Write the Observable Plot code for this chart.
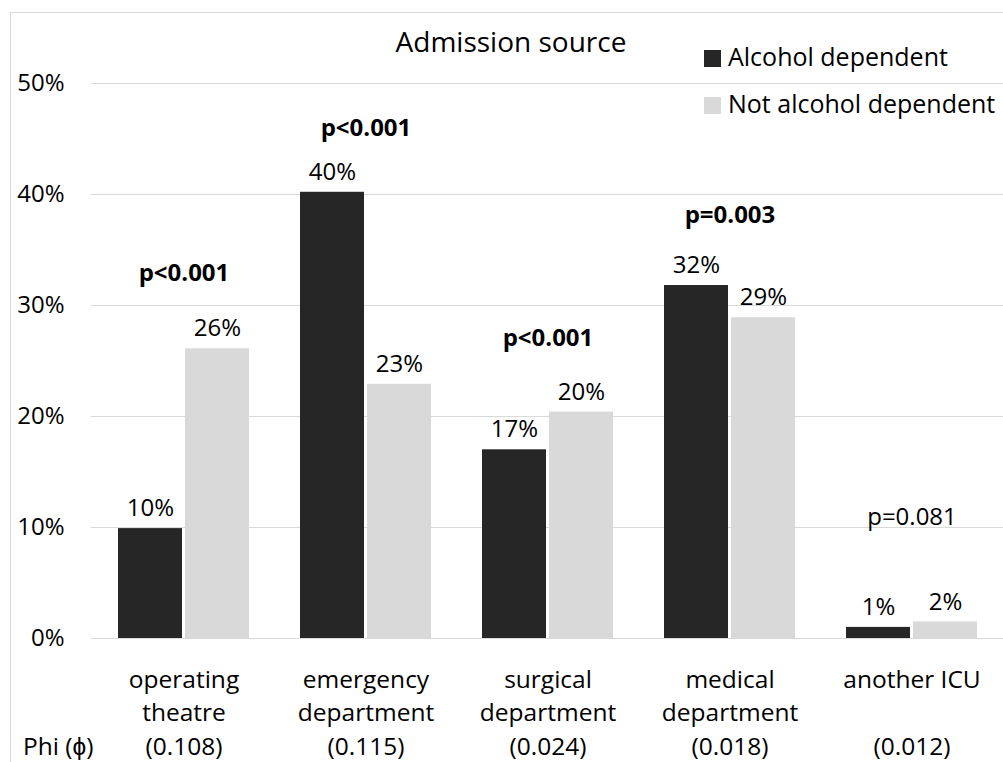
<!DOCTYPE html>
<html>
<head>
<meta charset="utf-8">
<script src="https://cdn.jsdelivr.net/npm/d3@7"></script>
<script src="https://cdn.jsdelivr.net/npm/@observablehq/plot@0.6"></script>
<style>
  html, body { margin: 0; padding: 0; background: #fff; }
  #wrap { position: relative; width: 1003px; height: 762px; overflow: hidden; font-family: "Open Sans", sans-serif; color: #000; }
  #frame { position: absolute; left: 10px; top: 12px; width: 1200px; height: 900px; border-left: 1px solid #d9d9d9; border-top: 1px solid #d9d9d9; box-sizing: border-box; }
  #chart { position: absolute; left: 0; top: 0; }
  #title { position: absolute; left: 0; top: 27px; width: 1022px; text-align: center; font-size: 28px; line-height: 28px; }
  .leg { position: absolute; left: 704px; font-size: 25px; line-height: 25px; white-space: nowrap; }
  .leg .sw { position: absolute; left: 0; width: 17px; height: 17px; }
  .leg .tx { position: absolute; left: 24px; top: 0; }
</style>
</head>
<body>
<div id="wrap">
  <div id="frame"></div>
  <div id="chart"></div>
  <div id="title"></div>
  <div id="legend"></div>
</div>
<script>
// ---- data ----
const title = "Admission source";
const categories = ["operating theatre", "emergency department", "surgical department", "medical department", "another ICU"];
const categoryLabels = ["operating\ntheatre", "emergency\ndepartment", "surgical\ndepartment", "medical\ndepartment", "another ICU"];
const groups = ["Alcohol dependent", "Not alcohol dependent"];
const colors = ["#262626", "#d9d9d9"];
const alcoholDependent = [9.9, 40.2, 17.0, 31.8, 1.0];
const notAlcoholDependent = [26.1, 22.9, 20.4, 28.9, 1.5];
const phiLabel = "Phi (\u03D5)";
const phiValues = ["(0.108)", "(0.115)", "(0.024)", "(0.018)", "(0.012)"];
const pValues = ["p<0.001", "p<0.001", "p<0.001", "p=0.003", "p=0.081"];
const pSignificant = [true, true, true, true, false];
const pLabelY = [32.9, 46.0, 27.0, 38.1, 10.9]; // annotation heights, in % units
const yTicks = [0, 10, 20, 30, 40, 50];

// ---- table ----
const rows = categories.flatMap((c, i) => [
  {category: c, group: groups[0], value: alcoholDependent[i]},
  {category: c, group: groups[1], value: notAlcoholDependent[i]}
]);
const dark = rows.filter(d => d.group === groups[0]);
const light = rows.filter(d => d.group === groups[1]);
const pRows = categories.map((c, i) => ({category: c, text: pValues[i], sig: pSignificant[i], y: pLabelY[i]}));

const barInset = 67;
const labelShift = 33.5;

const chart = Plot.plot({
  width: 1003,
  height: 762,
  marginLeft: 91,
  marginRight: 0,
  marginTop: 83,
  marginBottom: 124,
  style: {fontFamily: "Open Sans, sans-serif", fontSize: "24px", color: "#000", background: "transparent"},
  x: {domain: categories, paddingInner: 0.282, paddingOuter: 0.141, axis: null},
  y: {domain: [0, 50], ticks: yTicks, tickFormat: d => d + "%", tickSize: 0, tickPadding: 27, label: null},
  color: {domain: groups, range: colors},
  marks: [
    Plot.gridY(yTicks, {stroke: "#d9d9d9", strokeOpacity: 1}),
    Plot.barY(dark, {x: "category", y: "value", fill: "group", insetRight: barInset}),
    Plot.barY(light, {x: "category", y: "value", fill: "group", insetLeft: barInset}),
    Plot.text(dark, {x: "category", y: "value", text: d => Math.round(d.value) + "%", dx: -labelShift, dy: -20, fontSize: 24}),
    Plot.text(light, {x: "category", y: "value", text: d => Math.round(d.value) + "%", dx: labelShift, dy: -20, fontSize: 24}),
    Plot.text(pRows.filter(d => d.sig), {x: "category", y: "y", text: "text", fontSize: 24, fontWeight: "bold"}),
    Plot.text(pRows.filter(d => !d.sig), {x: "category", y: "y", text: "text", fontSize: 24}),
    Plot.text(categories, {x: d => d, text: (d, i) => categoryLabels[i], frameAnchor: "bottom", lineAnchor: "top", dy: 26, fontSize: 24.5, lineHeight: 1.34}),
    Plot.text(categories, {x: d => d, text: (d, i) => phiValues[i], frameAnchor: "bottom", lineAnchor: "top", dy: 99, fontSize: 24.5}),
    Plot.text([phiLabel], {frameAnchor: "bottom-left", textAnchor: "end", dx: 2, dy: 99, lineAnchor: "top", fontSize: 24.5})
  ]
});
document.getElementById("chart").appendChild(chart);
document.getElementById("title").textContent = title;

// legend
const legend = document.getElementById("legend");
groups.forEach((g, i) => {
  const row = document.createElement("div");
  row.className = "leg";
  row.style.top = (44 + i * 47) + "px";
  const sw = document.createElement("span");
  sw.className = "sw";
  sw.style.background = colors[i];
  sw.style.top = "6px";
  const tx = document.createElement("span");
  tx.className = "tx";
  tx.textContent = g;
  row.appendChild(sw);
  row.appendChild(tx);
  legend.appendChild(row);
});
</script>
</body>
</html>
